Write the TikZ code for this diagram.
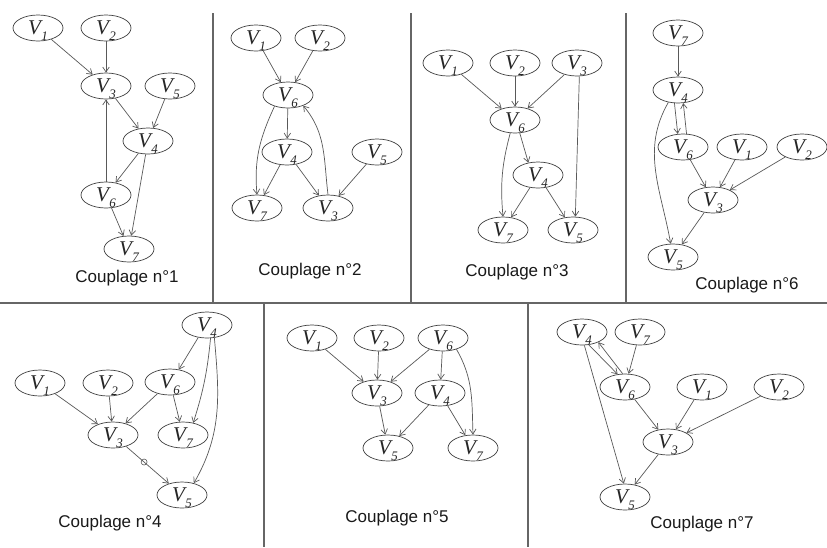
\documentclass[tikz,border=0pt]{standalone}
\usepackage{fontspec}
\setmainfont{Liberation Serif}
\newfontfamily\lblfont{Liberation Sans}
\usetikzlibrary{shapes.geometric,arrows.meta}
\newcommand{\vname}[1]{\smash{\makebox[0pt]{\raisebox{-0.33em}{\itshape V\kern0.2pt\raisebox{-0.26em}{\fontsize{13}{13}\selectfont #1}}}}}
\begin{document}
\begin{tikzpicture}[x=1pt,y=1pt,
  vn/.style={ellipse, draw=black!75, line width=0.7pt, minimum width=50pt, minimum height=26pt, inner sep=0pt, font=\fontsize{21}{21}\selectfont, text=black!85},
  ed/.style={draw=black!65, line width=0.7pt, -{Straight Barb[length=5pt,width=6.5pt]}},
  sep/.style={draw=black!60, line width=1.4pt},
  lbl/.style={font=\lblfont\fontsize{17}{17}\selectfont, text=black!90},
  ring/.style={circle, draw=black!65, line width=0.6pt, inner sep=0pt, minimum size=6pt}]
\useasboundingbox (0,0) rectangle (827,-547);
\fill[white] (0,0) rectangle (827,-547);
% separators
\coordinate (h0) at (0,-303); \coordinate (h1) at (827,-303);
\coordinate (t1a) at (213,-13); \coordinate (t1b) at (213,-303);
\coordinate (t2a) at (411,-13); \coordinate (t2b) at (411,-303);
\coordinate (t3a) at (626,-13); \coordinate (t3b) at (626,-303);
\coordinate (b1a) at (264,-303); \coordinate (b1b) at (264,-547);
\coordinate (b2a) at (528,-303); \coordinate (b2b) at (528,-547);
\draw[sep] (h0) -- (h1);
\draw[sep] (t1a) -- (t1b); \draw[sep] (t2a) -- (t2b); \draw[sep] (t3a) -- (t3b);
\draw[sep] (b1a) -- (b1b); \draw[sep] (b2a) -- (b2b);

% Couplage 1
\node[vn] (a1) at (38,-28) {\vname{1}};
\node[vn] (a2) at (106,-28) {\vname{2}};
\node[vn] (a3) at (106,-86) {\vname{3}};
\node[vn] (a5) at (170,-86) {\vname{5}};
\node[vn] (a4) at (148,-141) {\vname{4}};
\node[vn] (a6) at (106,-195) {\vname{6}};
\node[vn] (a7) at (129,-249) {\vname{7}};
\node[lbl] (la) at (127,-278) {Couplage n°1};
\draw[ed] (a1) -- (a3);
\draw[ed] (a2) -- (a3);
\draw[ed] (a3) -- (a4);
\draw[ed] (a5) -- (a4);
\draw[ed] (a4) -- (a6);
\draw[ed] (a4) -- (a7);
\draw[ed] (a6) -- (a7);
\draw[ed] (a6.north) -- (a3.south);

% Couplage 2
\node[vn] (b1) at (256,-38) {\vname{1}};
\node[vn] (b2) at (320,-38) {\vname{2}};
\node[vn] (b6) at (288,-95) {\vname{6}};
\node[vn] (b4) at (287,-152) {\vname{4}};
\node[vn] (b5) at (377,-152) {\vname{5}};
\node[vn] (b7) at (257,-208) {\vname{7}};
\node[vn] (b3) at (328,-208) {\vname{3}};
\node[lbl] (lb) at (310,-271) {Couplage n°2};
\draw[ed] (b1) -- (b6);
\draw[ed] (b2) -- (b6);
\draw[ed] (b6) -- (b4);
\draw[ed] (b6.220) to[out=245,in=95] (b7.north);
\draw[ed] (b4) -- (b7);
\draw[ed] (b4) -- (b3);
\draw[ed] (b5) -- (b3);
\draw[ed] (b3.north) to[out=97,in=-50] (b6.-35);

% Couplage 3
\node[vn] (c1) at (448,-63) {\vname{1}};
\node[vn] (c2) at (515,-63) {\vname{2}};
\node[vn] (c3) at (577,-63) {\vname{3}};
\node[vn] (c6) at (515,-120) {\vname{6}};
\node[vn] (c4) at (538,-175) {\vname{4}};
\node[vn] (c7) at (503,-230) {\vname{7}};
\node[vn] (c5) at (573,-230) {\vname{5}};
\node[lbl] (lc) at (517,-272) {Couplage n°3};
\draw[ed] (c1) -- (c6);
\draw[ed] (c2) -- (c6);
\draw[ed] (c3) -- (c6);
\draw[ed] (c3.-80) -- (c5.80);
\draw[ed] (c6.-70) -- (c4.128);
\draw[ed] (c6.250) to[bend right=10] (c7.north);
\draw[ed] (c4) -- (c7);
\draw[ed] (c4) -- (c5);

% Couplage 6
\node[vn] (d7) at (678,-33) {\vname{7}};
\node[vn] (d4) at (678,-90) {\vname{4}};
\node[vn] (d6) at (683,-147) {\vname{6}};
\node[vn] (d1) at (742,-147) {\vname{1}};
\node[vn] (d2) at (802,-147) {\vname{2}};
\node[vn] (d3) at (713,-200) {\vname{3}};
\node[vn] (d5) at (673,-257) {\vname{5}};
\node[lbl] (ld) at (747,-285) {Couplage n°6};
\draw[ed] (d7) -- (d4);
\draw[ed] (d4.255) -- (d6.112);
\draw[ed] (d6.75) -- (d4.292);
\draw[ed] (d4.232) to[out=240,in=100] (d5.100);
\draw[ed] (d6) -- (d3);
\draw[ed] (d1) -- (d3);
\draw[ed] (d2) -- (d3);
\draw[ed] (d3) -- (d5);

% Couplage 4
\node[vn] (e4) at (207,-325) {\vname{4}};
\node[vn] (e1) at (40,-383) {\vname{1}};
\node[vn] (e2) at (108,-383) {\vname{2}};
\node[vn] (e6) at (170,-382) {\vname{6}};
\node[vn] (e3) at (113,-435) {\vname{3}};
\node[vn] (e7) at (183,-435) {\vname{7}};
\node[vn] (e5) at (182,-495) {\vname{5}};
\node[lbl] (le) at (110,-523) {Couplage n°4};
\draw[ed] (e1) -- (e3);
\draw[ed] (e2) -- (e3);
\draw[ed] (e6) -- (e3);
\draw[ed] (e6) -- (e7);
\draw[ed] (e4.235) -- (e6.55);
\draw[ed] (e4.-75) to[bend left=6] (e7.50);
\draw[ed] (e4.-60) to[out=-85,in=60] (e5.45);
\draw[ed] (e3) -- node[ring, pos=0.42] (eo) {} (e5);

% Couplage 5
\node[vn] (f1) at (312,-338) {\vname{1}};
\node[vn] (f2) at (379,-338) {\vname{2}};
\node[vn] (f6) at (443,-338) {\vname{6}};
\node[vn] (f3) at (377,-393) {\vname{3}};
\node[vn] (f4) at (440,-393) {\vname{4}};
\node[vn] (f5) at (388,-448) {\vname{5}};
\node[vn] (f7) at (473,-448) {\vname{7}};
\node[lbl] (lf) at (397,-518) {Couplage n°5};
\draw[ed] (f1) -- (f3);
\draw[ed] (f2) -- (f3);
\draw[ed] (f6) -- (f3);
\draw[ed] (f6) -- (f4);
\draw[ed] (f6.-40) to[out=-60,in=92] (f7.north);
\draw[ed] (f3) -- (f5);
\draw[ed] (f4) -- (f5);
\draw[ed] (f4) -- (f7);

% Couplage 7
\node[vn] (g4) at (582,-332) {\vname{4}};
\node[vn] (g7) at (640,-332) {\vname{7}};
\node[vn] (g6) at (625,-387) {\vname{6}};
\node[vn] (g1) at (702,-387) {\vname{1}};
\node[vn] (g2) at (779,-387) {\vname{2}};
\node[vn] (g3) at (668,-442) {\vname{3}};
\node[vn] (g5) at (625,-497) {\vname{5}};
\node[lbl] (lg) at (702,-524) {Couplage n°7};
\draw[ed] (g7) -- (g6);
\draw[ed] (g4.-62) -- (g6.120);
\draw[ed] (g6.100) -- (g4.-32);
\draw[ed] (g4.-80) -- (g5.95);
\draw[ed] (g6) -- (g3);
\draw[ed] (g1) -- (g3);
\draw[ed] (g2) -- (g3);
\draw[ed] (g3) -- (g5);
\end{tikzpicture}
\end{document}
